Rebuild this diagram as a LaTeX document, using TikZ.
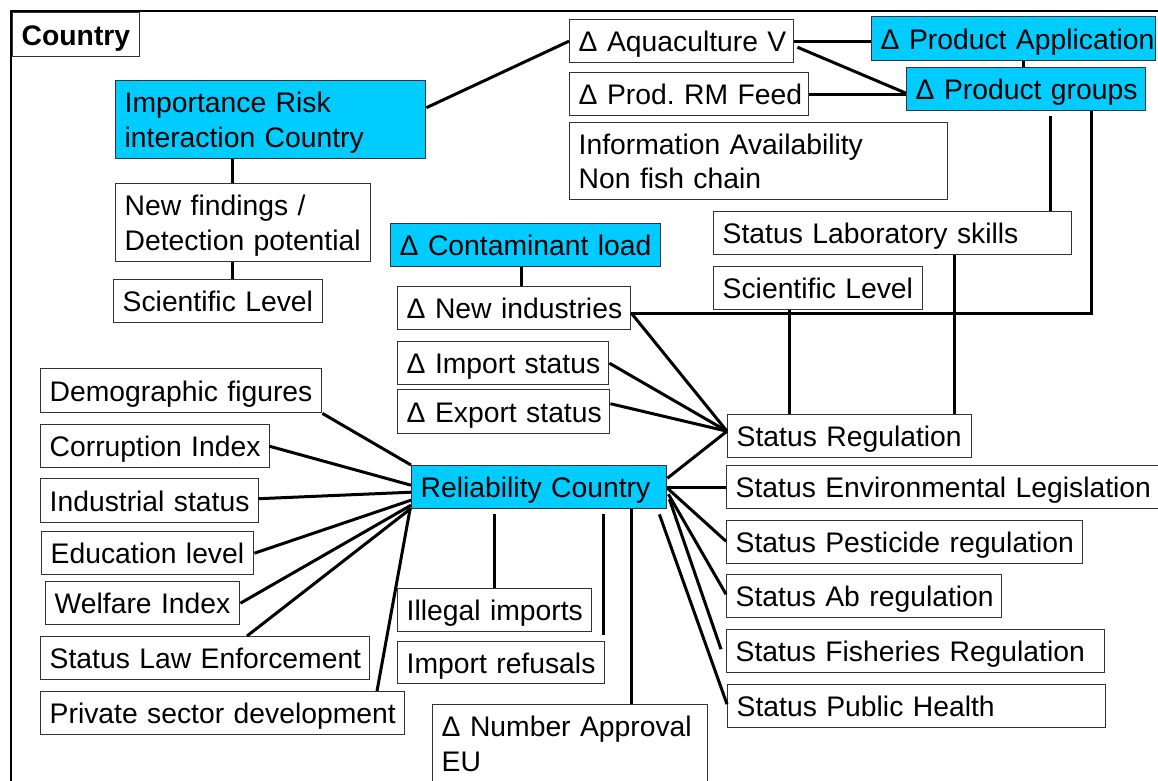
\documentclass[tikz,border=0pt]{standalone}
\usepackage{fontspec}
\setmainfont{Liberation Sans}
\usetikzlibrary{calc}
\definecolor{boxcyan}{RGB}{0,204,255}
\frenchspacing
\newcommand\mkbox[7]{%
  \pgfmathsetmacro\mkw{#4-#2-18}%
  \pgfmathsetmacro\mkh{#5-#3}%
  \node[box,#6,text width=\mkw pt,minimum height=\mkh pt] (#1) at (#2,#3) {#7};}
\tikzset{
  box/.style={draw=black!80, line width=1.4pt, fill=white, anchor=north west,
    inner xsep=9pt, inner ysep=0pt, align=left, text height=21pt, text depth=0pt,
    font=\fontsize{28.3}{34.5}\selectfont},
  two/.style={text depth=35pt},
  hl/.style={fill=boxcyan},
  bold/.style={font=\fontsize{28.3}{34.5}\selectfont\bfseries},
  conn/.style={line width=3pt, black},
  frame/.style={line width=2.5pt, black}
}
\begin{document}
\begin{tikzpicture}[x=1pt,y=-1pt]
\useasboundingbox (0,0) rectangle (1158,780);
\clip (0,0) rectangle (1158,780);
\draw[frame] (11,790) -- (11,11) -- (1170,11);
% nodes
\mkbox{country}{12}{12}{139}{56}{bold}{\mbox{Country}}
\mkbox{imp}{115}{80}{425}{158}{hl,two}{\mbox{Importance Risk}\\\mbox{interaction Country}}
\mkbox{newf}{115}{183}{370}{261}{two}{\mbox{New findings /}\\\mbox{Detection potential}}
\mkbox{sci1}{113}{279}{322}{322}{}{\mbox{Scientific Level}}
\mkbox{aqua}{569}{19}{793}{62}{}{\mbox{Δ Aquaculture V}}
\mkbox{papp}{871}{16}{1155}{60}{hl}{\mbox{Δ Product Application}}
\mkbox{feed}{569}{72}{808}{115}{}{\mbox{Δ Prod. RM Feed}}
\mkbox{pgrp}{906}{67}{1145}{110}{hl}{\mbox{Δ Product groups}}
\mkbox{info}{569}{122}{947}{199}{two}{\mbox{Information Availability}\\\mbox{Non fish chain}}
\mkbox{lab}{713}{211}{1071}{254}{}{\mbox{Status Laboratory skills}}
\mkbox{sci2}{713}{266}{922}{309}{}{\mbox{Scientific Level}}
\mkbox{cont}{390}{223}{660}{266}{hl}{\mbox{Δ Contaminant load}}
\mkbox{newind}{397}{286}{630}{329}{}{\mbox{Δ New industries}}
\mkbox{ims}{397}{341}{608}{384}{}{\mbox{Δ Import status}}
\mkbox{exs}{397}{389}{609}{433}{}{\mbox{Δ Export status}}
\mkbox{rel}{411}{465}{666}{508}{hl}{\mbox{Reliability Country}}
\mkbox{statreg}{727}{414}{971}{457}{}{\mbox{Status Regulation}}
\mkbox{env}{726}{465}{1158}{508}{}{\mbox{Status Environmental Legislation}}
\mkbox{pest}{726}{520}{1082}{563}{}{\mbox{Status Pesticide regulation}}
\mkbox{ab}{726}{574}{1001}{617}{}{\mbox{Status Ab regulation}}
\mkbox{fish}{726}{629}{1104}{672}{}{\mbox{Status Fisheries Regulation}}
\mkbox{ph}{727}{684}{1105}{727}{}{\mbox{Status Public Health}}
\mkbox{demo}{40}{368}{321}{412}{}{\mbox{Demographic figures}}
\mkbox{corr}{40}{424}{269}{467}{}{\mbox{Corruption Index}}
\mkbox{ind}{40}{478}{258}{522}{}{\mbox{Industrial status}}
\mkbox{edu}{41}{531}{253}{574}{}{\mbox{Education level}}
\mkbox{welf}{45}{581}{239}{624}{}{\mbox{Welfare Index}}
\mkbox{law}{40}{636}{369}{679}{}{\mbox{Status Law Enforcement}}
\mkbox{priv}{40}{691}{404}{734}{}{\mbox{Private sector development}}
\mkbox{ill}{397}{588}{591}{631}{}{\mbox{Illegal imports}}
\mkbox{ref}{397}{641}{604}{683}{}{\mbox{Import refusals}}
\mkbox{numeu}{432}{704}{707}{782}{two}{\mbox{Δ Number Approval}\\\mbox{EU}}
% connectors
\coordinate (sr) at ($(statreg.west)+(0,-5)$);
\draw[conn] ($(imp.south west)+(117,0)$) -- ($(newf.north west)+(117,0)$);
\draw[conn] ($(newf.south west)+(117,0)$) -- ($(sci1.north west)+(119,0)$);
\draw[conn] ($(imp.east)+(0,-12)$) -- (aqua.west);
\draw[conn] (aqua.east) -- (aqua.east -| papp.west);
\draw[conn] ($(aqua.east)+(3,6)$) -- ($(pgrp.west)+(0,4)$);
\draw[conn] (feed.east) -- (feed.east -| pgrp.west);
\draw[conn] ($(papp.south west)+(152,0)$) -- ($(pgrp.north west)+(117,0)$);
\draw[conn] ($(pgrp.south west)+(144,5)$) -- ($(lab.north west)+(337,0)$);
\draw[conn] ($(pgrp.south west)+(185,0)$) |- ($(newind.east)+(0,5)$);
\draw[conn] ($(lab.south west)+(241,0)$) -- ($(statreg.north west)+(227,0)$);
\draw[conn] ($(sci2.south west)+(76,0)$) -- ($(statreg.north west)+(62,0)$);
\draw[conn] ($(cont.south west)+(131,0)$) -- ($(newind.north west)+(124,0)$);
\draw[conn] ($(newind.east)+(0,5)$) -- (sr);
\draw[conn] (ims.east) -- (sr);
\draw[conn] ($(exs.east)+(0,-8)$) -- (sr);
\draw[conn] ($(rel.east)+(0,-9)$) -- (sr);
\draw[conn] (rel.east) -- (env.west);
\draw[conn] ($(rel.east)+(0,1)$) -- ($(pest.west)+(0,-1)$);
\draw[conn] ($(rel.east)+(1,7)$) -- ($(ab.west)+(0,-2)$);
\draw[conn] ($(rel.east)+(2,12)$) -- ($(fish.west)+(-5,-2)$);
\draw[conn] ($(rel.south east)+(-8,5)$) -- ($(ph.west)+(0,-2)$);
\draw[conn] (demo.south east) -- (rel.north west);
\draw[conn] ($(corr.east)+(-1,0)$) -- ($(rel.west)+(0,-2)$);
\draw[conn] ($(ind.east)+(-1,-2)$) -- ($(rel.west)+(0,5)$);
\draw[conn] (edu.east) -- ($(rel.west)+(0,13)$);
\draw[conn] (welf.east) -- ($(rel.west)+(0,18)$);
\draw[conn] ($(law.north west)+(207,0)$) -- ($(rel.south west)+(0,-1)$);
\draw[conn] ($(priv.north west)+(337,0)$) -- ($(rel.south west)+(-1,0)$);
\draw[conn] ($(rel.south west)+(83,5)$) -- ($(ill.north west)+(97,0)$);
\draw[conn] ($(rel.south west)+(192,5)$) -- ($(ref.north west)+(206,-6)$);
\draw[conn] ($(rel.south west)+(220,0)$) -- ($(numeu.north west)+(199,0)$);
\end{tikzpicture}
\end{document}
